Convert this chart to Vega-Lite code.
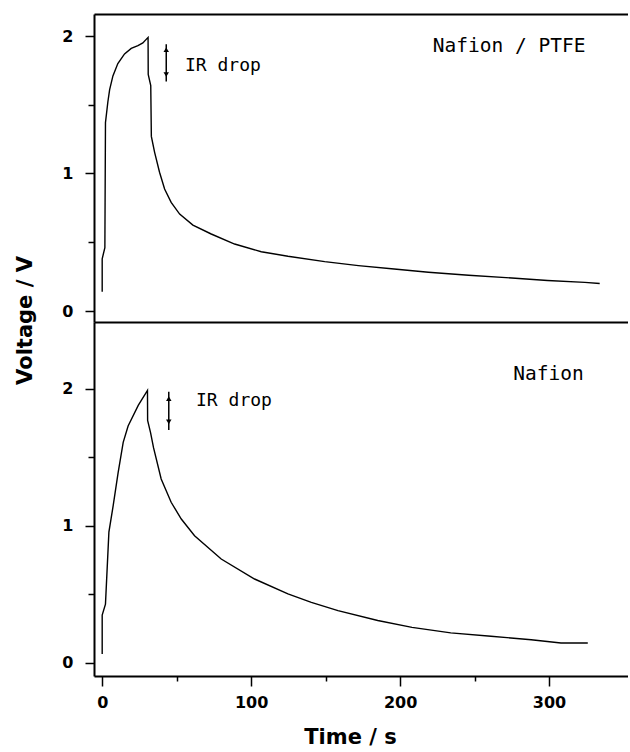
{
  "$schema": "https://vega.github.io/schema/vega-lite/v6.json",
  "padding": {"left": 14, "top": 14, "right": 0, "bottom": 0},
  "background": "white",
  "bounds": "flush",
  "spacing": 0,
  "config": {
    "view": {"stroke": null},
    "concat": {"spacing": 0},
    "axis": {
      "grid": false,
      "domainColor": "black",
      "domainWidth": 2,
      "tickColor": "black",
      "tickWidth": 1.5,
      "labelFont": "DejaVu Sans",
      "labelFontWeight": "bold",
      "labelFontSize": 16,
      "labelColor": "black",
      "titleFont": "DejaVu Sans",
      "titleFontWeight": "bold",
      "titleFontSize": 21,
      "titleColor": "black"
    }
  },
  "datasets": {
    "top": [
      {"t": 0, "v": 0.14}, {"t": 0, "v": 0.38}, {"t": 1.8, "v": 0.46}, {"t": 2.2, "v": 1.37},
      {"t": 3.8, "v": 1.52}, {"t": 5.0, "v": 1.61}, {"t": 7.2, "v": 1.71}, {"t": 10.5, "v": 1.8},
      {"t": 15, "v": 1.87}, {"t": 19.5, "v": 1.91}, {"t": 24, "v": 1.93}, {"t": 27.3, "v": 1.95},
      {"t": 30.8, "v": 1.99}, {"t": 30.9, "v": 1.72}, {"t": 32.6, "v": 1.64}, {"t": 33, "v": 1.27},
      {"t": 35.2, "v": 1.154}, {"t": 38.5, "v": 1.009}, {"t": 41.9, "v": 0.887}, {"t": 46.3, "v": 0.79},
      {"t": 52, "v": 0.705}, {"t": 60.9, "v": 0.625}, {"t": 73.2, "v": 0.56}, {"t": 88.9, "v": 0.487},
      {"t": 106.8, "v": 0.431}, {"t": 124.7, "v": 0.398}, {"t": 149.4, "v": 0.359}, {"t": 172, "v": 0.33},
      {"t": 196, "v": 0.305}, {"t": 219, "v": 0.282}, {"t": 246, "v": 0.26}, {"t": 275, "v": 0.24},
      {"t": 299, "v": 0.222}, {"t": 324, "v": 0.208}, {"t": 334, "v": 0.2}
    ],
    "bottom": [
      {"t": 0, "v": 0.066}, {"t": 0, "v": 0.35}, {"t": 2.2, "v": 0.43}, {"t": 4.5, "v": 0.955},
      {"t": 7.4, "v": 1.15}, {"t": 10.7, "v": 1.39}, {"t": 14.1, "v": 1.61}, {"t": 17.4, "v": 1.73},
      {"t": 24.2, "v": 1.88}, {"t": 30.4, "v": 1.99}, {"t": 30.5, "v": 1.77}, {"t": 32.5, "v": 1.68},
      {"t": 34.5, "v": 1.57}, {"t": 39.6, "v": 1.343}, {"t": 46.3, "v": 1.173}, {"t": 53.1, "v": 1.051},
      {"t": 62, "v": 0.929}, {"t": 79.9, "v": 0.759}, {"t": 102.3, "v": 0.613}, {"t": 124.7, "v": 0.504},
      {"t": 140.4, "v": 0.443}, {"t": 158.3, "v": 0.382}, {"t": 185, "v": 0.31}, {"t": 208, "v": 0.26},
      {"t": 234, "v": 0.22}, {"t": 261, "v": 0.195}, {"t": 288, "v": 0.17}, {"t": 308, "v": 0.146},
      {"t": 326, "v": 0.146}
    ],
    "topLabels": [
      {"t": 222, "v": 1.93, "label": "Nafion / PTFE", "kind": "panel"},
      {"t": 55.6, "v": 1.785, "label": "IR drop", "kind": "ir"}
    ],
    "bottomLabels": [
      {"t": 276, "v": 2.11, "label": "Nafion", "kind": "panel"},
      {"t": 63, "v": 1.91, "label": "IR drop", "kind": "ir"}
    ],
    "topArrow": [{"t": 43, "v1": 1.94, "v2": 1.67, "up": 1.9, "down": 1.72}],
    "bottomArrow": [{"t": 44.7, "v1": 1.98, "v2": 1.7, "up": 1.93, "down": 1.76}]
  },
  "vconcat": [
    {
      "width": 534,
      "height": 308,
      "resolve": {"axis": {"x": "independent"}},
      "layer": [
        {
          "data": {"name": "top"},
          "mark": {"type": "line", "color": "black", "strokeWidth": 1.4},
          "encoding": {
            "x": {"field": "t", "type": "quantitative", "scale": {"domain": [-5.5, 353], "nice": false, "zero": false},
                  "axis": {"orient": "top", "ticks": false, "labels": false, "title": null}},
            "y": {"field": "v", "type": "quantitative", "scale": {"domain": [-0.08, 2.16], "nice": false, "zero": false},
                  "axis": {"values": [0, 0.5, 1, 1.5, 2], "labelExpr": "datum.value % 1 == 0 ? format(datum.value, 'd') : ''",
                           "tickSize": {"condition": {"test": "datum.value % 1 == 0", "value": 9}, "value": 6},
                           "labelPadding": 12, "title": "Voltage / V", "titleY": 306, "titlePadding": 26}},
            "order": {"value": null}
          }
        },
        {
          "data": {"name": "topLabels"},
          "mark": {"type": "text", "font": "DejaVu Sans Mono", "align": "left", "baseline": "middle", "color": "black"},
          "encoding": {
            "x": {"field": "t", "type": "quantitative", "axis": {"orient": "bottom", "ticks": false, "labels": false, "title": null}},
            "y": {"field": "v", "type": "quantitative"},
            "text": {"field": "label"},
            "size": {"field": "kind", "type": "nominal", "scale": {"domain": ["panel", "ir"], "range": [19.5, 18]}, "legend": null}
          }
        },
        {
          "data": {"name": "topArrow"},
          "mark": {"type": "rule", "color": "black", "strokeWidth": 1.5},
          "encoding": {
            "x": {"field": "t", "type": "quantitative", "axis": null},
            "y": {"field": "v1", "type": "quantitative"},
            "y2": {"field": "v2"}
          }
        },
        {
          "data": {"name": "topArrow"},
          "mark": {"type": "point", "shape": "triangle-up", "filled": true, "color": "black", "size": 30, "opacity": 1},
          "encoding": {
            "x": {"field": "t", "type": "quantitative", "axis": null},
            "y": {"field": "up", "type": "quantitative"}
          }
        },
        {
          "data": {"name": "topArrow"},
          "mark": {"type": "point", "shape": "triangle-down", "filled": true, "color": "black", "size": 30, "opacity": 1},
          "encoding": {
            "x": {"field": "t", "type": "quantitative", "axis": null},
            "y": {"field": "down", "type": "quantitative"}
          }
        }
      ]
    },
    {
      "width": 534,
      "height": 354,
      "layer": [
        {
          "data": {"name": "bottom"},
          "mark": {"type": "line", "color": "black", "strokeWidth": 1.4},
          "encoding": {
            "x": {"field": "t", "type": "quantitative", "scale": {"domain": [-5.5, 353], "nice": false, "zero": false},
                  "axis": {"values": [0, 50, 100, 150, 200, 250, 300], "labelExpr": "datum.value % 100 == 0 ? format(datum.value, 'd') : ''",
                           "tickSize": {"condition": {"test": "datum.value % 100 == 0", "value": 10}, "value": 5},
                           "labelPadding": 8, "title": "Time / s", "titleX": 256, "titlePadding": 16}},
            "y": {"field": "v", "type": "quantitative", "scale": {"domain": [-0.095, 2.489], "nice": false, "zero": false},
                  "axis": {"values": [0, 0.5, 1, 1.5, 2], "labelExpr": "datum.value % 1 == 0 ? format(datum.value, 'd') : ''",
                           "tickSize": {"condition": {"test": "datum.value % 1 == 0", "value": 9}, "value": 6},
                           "labelPadding": 12, "title": null}},
            "order": {"value": null}
          }
        },
        {
          "data": {"name": "bottomLabels"},
          "mark": {"type": "text", "font": "DejaVu Sans Mono", "align": "left", "baseline": "middle", "color": "black"},
          "encoding": {
            "x": {"field": "t", "type": "quantitative"},
            "y": {"field": "v", "type": "quantitative"},
            "text": {"field": "label"},
            "size": {"field": "kind", "type": "nominal", "scale": {"domain": ["panel", "ir"], "range": [19.5, 18]}, "legend": null}
          }
        },
        {
          "data": {"name": "bottomArrow"},
          "mark": {"type": "rule", "color": "black", "strokeWidth": 1.5},
          "encoding": {
            "x": {"field": "t", "type": "quantitative"},
            "y": {"field": "v1", "type": "quantitative"},
            "y2": {"field": "v2"}
          }
        },
        {
          "data": {"name": "bottomArrow"},
          "mark": {"type": "point", "shape": "triangle-up", "filled": true, "color": "black", "size": 30, "opacity": 1},
          "encoding": {
            "x": {"field": "t", "type": "quantitative"},
            "y": {"field": "up", "type": "quantitative"}
          }
        },
        {
          "data": {"name": "bottomArrow"},
          "mark": {"type": "point", "shape": "triangle-down", "filled": true, "color": "black", "size": 30, "opacity": 1},
          "encoding": {
            "x": {"field": "t", "type": "quantitative"},
            "y": {"field": "down", "type": "quantitative"}
          }
        }
      ]
    }
  ]
}
